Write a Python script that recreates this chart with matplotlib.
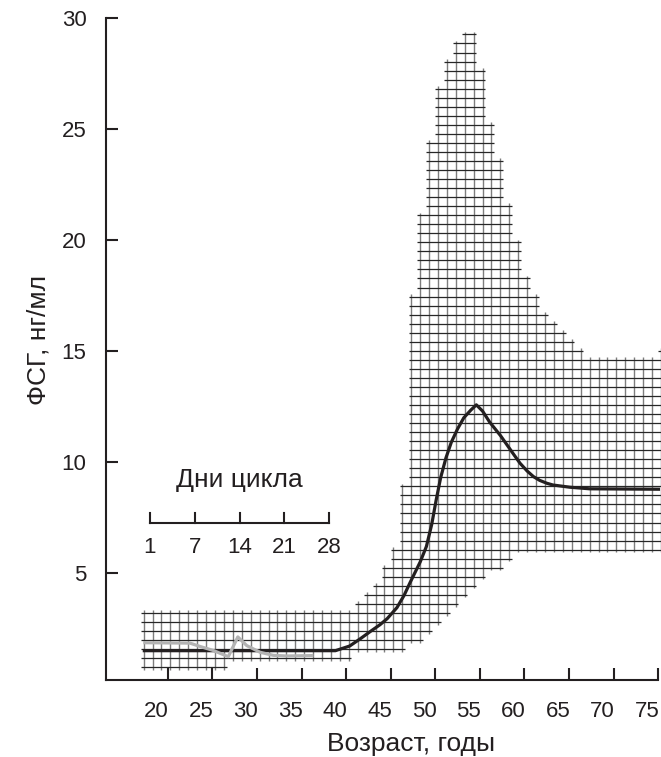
import numpy as np
import matplotlib.pyplot as plt
from matplotlib.collections import LineCollection
from matplotlib.transforms import ScaledTranslation

plt.rcParams['font.family'] = ['Liberation Sans', 'DejaVu Sans']

# средний уровень ФСГ по возрасту
age = [17.2, 38.8, 40.4, 41.6, 42.7, 43.8, 44.6, 45.7, 46.5, 47.2, 48.3, 49.0,
       49.6, 50.1, 50.6, 51.2, 51.8, 52.5, 53.2, 54.0, 54.6, 55.3, 56.1, 57.3,
       58.7, 59.5, 60.3, 61.0, 61.7, 62.5, 63.2, 65.1, 67.3, 75.2]
fsh = [1.51, 1.51, 1.72, 2.05, 2.37, 2.68, 2.95, 3.45, 4.0, 4.6, 5.5, 6.2,
       7.2, 8.3, 9.3, 10.2, 10.9, 11.5, 12.0, 12.35, 12.58, 12.3, 11.8, 11.2,
       10.4, 9.95, 9.6, 9.35, 9.18, 9.05, 8.97, 8.87, 8.80, 8.78]

# колебания ФСГ в течение цикла (в координатах оси возраста)
cycle_x = [17.26, 22.5, 23.62, 25.11, 26.79, 27.86, 28.86, 30.35, 31.84, 33.34, 36.32]
cycle_fsh = [1.87, 1.85, 1.70, 1.52, 1.24, 2.13, 1.74, 1.44, 1.30, 1.27, 1.29]

# границы разброса (нижняя и верхняя)
lo_age = [17.3, 26.4, 26.9, 40.4, 40.9, 46.4, 46.9, 49.0, 50.0, 51.0, 52.0, 53.0,
          54.0, 55.0, 56.0, 57.0, 59.0, 59.5, 75.3]
lo_val = [0.77, 0.77, 1.18, 1.18, 1.58, 1.58, 1.99, 1.99, 2.4, 2.8, 3.2, 3.6,
          4.0, 4.4, 4.8, 5.2, 5.5, 5.85, 5.85]
hi_age = [17.3, 38.5, 39.5, 40.6, 41.7, 42.7, 43.8, 44.9, 45.7, 46.8, 47.3, 48.2,
          48.9, 49.8, 50.7, 51.8, 52.4, 53.0, 54.8, 55.0, 56.0, 57.0, 58.0, 58.9,
          59.9, 61.0, 61.9, 63.0, 64.0, 64.9, 66.0, 67.0, 68.1, 73.3, 74.3, 75.3]
hi_val = [3.2, 3.2, 3.3, 3.5, 3.8, 4.1, 5.3, 5.6, 7.1, 10.7, 17.8, 20.8,
          23.5, 26.0, 27.4, 28.5, 28.9, 29.3, 29.3, 28.9, 25.8, 24.2, 22.3, 20.8,
          18.8, 17.9, 17.0, 16.4, 16.0, 15.6, 15.2, 14.8, 14.6, 14.6, 14.8, 15.0]

x_ticks = [20, 25, 30, 35, 40, 45, 50, 55, 60, 65, 70, 75]
y_ticks = [5, 10, 15, 20, 25, 30]
day_labels = ['1', '7', '14', '21', '28']

ink = '#231f20'

fig = plt.figure(figsize=(6.61, 7.57), dpi=100)
ax = fig.add_axes([106 / 661, 1 - 680 / 757, 555.4 / 661, 662 / 757])
ax.set_xlim(13.08, 75.35)
ax.set_ylim(0.19, 30)

# сетка-штриховка внутри области разброса
cols = np.arange(17.3, 75.31, 1.0)
rows = 0.77 + 0.407 * np.arange(71)
col_lo = np.interp(cols, lo_age, lo_val)
col_hi = np.interp(cols, hi_age, hi_val)
inside = (rows[None, :] >= col_lo[:, None] - 0.05) & (rows[None, :] <= col_hi[:, None] + 0.05)

ov_x, ov_y = 0.3, 0.12
vsegs = []
for i, x in enumerate(cols):
    r = rows[inside[i]]
    if len(r):
        vsegs.append([(x, r.min() - ov_y), (x, r.max() + ov_y)])
hsegs = []
for j, y in enumerate(rows):
    idx = np.where(inside[:, j])[0]
    if not len(idx):
        continue
    runs = np.split(idx, np.where(np.diff(idx) > 1)[0] + 1)
    for run in runs:
        hsegs.append([(cols[run[0]] - ov_x, y), (cols[run[-1]] + ov_x, y)])

ax.add_collection(LineCollection(vsegs, colors='#7d7d7d', linewidths=1.0, zorder=1))
ax.add_collection(LineCollection(hsegs, colors='#262626', linewidths=0.9, zorder=1))

ax.plot(age, fsh, color=ink, lw=2.3, zorder=3, solid_capstyle='butt')
ax.plot(cycle_x, cycle_fsh, color='#b3b3b3', lw=2.3, zorder=4, solid_capstyle='butt')

# шкала дней цикла
day_x = np.linspace(18.0, 38.1, len(day_labels))
ax.plot([day_x[0], day_x[-1]], [7.25, 7.25], color=ink, lw=1.5)
for dx, lab in zip(day_x, day_labels):
    ax.plot([dx, dx], [7.25, 7.72], color=ink, lw=1.5)
    ax.text(dx, 6.14, lab, ha='center', va='center', fontsize=16, color=ink)
ax.text(28.0, 9.2, 'Дни цикла', ha='center', va='center', fontsize=19, color=ink)

for s in ['top', 'right']:
    ax.spines[s].set_visible(False)
for s in ['left', 'bottom']:
    ax.spines[s].set_linewidth(1.5)
    ax.spines[s].set_color(ink)
ax.spines['bottom'].set_bounds(13.08, 75.0)

ax.set_xticks(x_ticks)
ax.set_yticks(y_ticks)
ax.tick_params(direction='in', length=8.6, width=1.5, color=ink,
               labelsize=16, labelcolor=ink)
ax.tick_params(axis='y', pad=14)
ax.tick_params(axis='x', pad=15)
shift = ScaledTranslation(-0.11, 0, fig.dpi_scale_trans)
for lab in ax.get_xticklabels():
    lab.set_transform(lab.get_transform() + shift)

ax.set_xlabel('Возраст, годы', fontsize=19, color=ink)
ax.set_ylabel('ФСГ, нг/мл', fontsize=19, color=ink)
ax.xaxis.set_label_coords(0.55, -0.078)
ax.yaxis.set_label_coords(-0.10, 0.514)

fig.savefig('out.png', dpi=100)
